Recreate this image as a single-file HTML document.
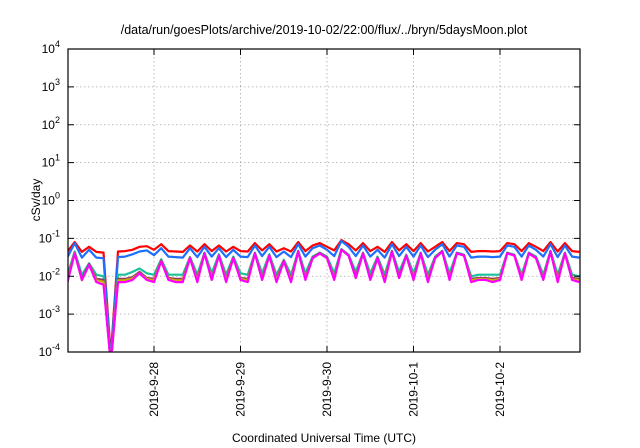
<!DOCTYPE html>
<html><head><meta charset="utf-8"><style>
body{margin:0;background:#fff}
svg{display:block;font-family:"Liberation Sans",sans-serif}
</style></head><body>
<svg id="chart" width="640" height="448">
<text x="324" y="34" font-size="12.5" text-anchor="middle">/data/run/goesPlots/archive/2019-10-02/22:00/flux/../bryn/5daysMoon.plot</text>
<text transform="translate(40,200) rotate(-90)" font-size="12" text-anchor="middle">cSv/day</text>
<text x="324" y="442" font-size="12" text-anchor="middle">Coordinated Universal Time (UTC)</text>
<g id="grid"></g><g id="series"></g><g id="axes"></g>
</svg>
<script>
const yTickExps=[-4,-3,-2,-1,0,1,2,3,4];
const xTickDays=[1,2,3,4,5];
const xTickLabels=["2019-9-28","2019-9-29","2019-9-30","2019-10-1","2019-10-2"];
const seriesNames=["red","blue","teal","brown","yellow","magenta"];
const seriesColors=["#ff0000","#1f6fff","#19c29a","#8e3b5f","#c8b000","#ff00ff"];
const stepHours=2;
// values in units of 1e-3 cSv/day
const red=[45,80,44,60,44,42,0.08,45,46,50,60,62,50,70,46,45,44,65,45,70,46,65,45,60,46,45,75,48,70,45,55,45,80,46,65,75,60,48,90,70,48,75,46,60,44,80,48,70,46,75,45,60,80,46,75,70,44,46,46,45,46,75,70,46,75,60,46,80,45,75,46,44];
const blue=[32,75,31,50,31,30,0.06,32,33,38,45,48,36,55,33,32,31,55,32,60,33,55,32,50,33,32,65,34,60,32,45,32,70,33,55,65,50,34,85,60,34,65,33,50,31,70,34,60,33,65,32,50,70,33,65,60,31,33,33,32,33,65,60,33,65,50,33,70,32,65,33,31];
const teal=[11,45,11,22,11,10,0.05,11,11,13,16,12,11,28,11,11,11,32,11,42,12,38,11,33,12,11,42,12,38,11,27,11,47,12,33,42,33,12,52,37,13,42,12,33,11,47,13,37,12,42,11,33,47,12,42,37,10,11,11,11,11,42,37,11,42,33,11,47,11,42,11,10];
const brown=[8.5,42,8.5,21,8.5,8,0.05,8.5,8.5,9.5,13,9,8.5,26,9,8.5,8.5,31,8.5,41,9,36,8.5,31,9,8.5,41,9,36,8.5,26,8.5,46,9,31,41,31,9,51,36,10,41,9,31,8.5,46,10,36,9,41,8.5,31,46,9,41,36,8.5,9,9,8.5,9,41,36,9,41,31,9,46,8.5,41,9,8.5];
const yellow=[7.8,41,7.8,20,7.8,7.2,0.05,7.8,7.8,8.8,12,8.5,7.8,25,8.5,7.8,7.8,30,7.8,40,8.5,35,7.8,30,8.5,7.8,40,8.5,35,7.8,25,7.8,45,8.5,30,40,30,8.5,50,35,9,40,8.5,30,7.8,45,9,35,8.5,40,7.8,30,45,8.5,40,35,7.8,8.5,8.5,7.8,8.5,40,35,8.5,40,30,8.5,45,7.8,40,8.5,7.8];
const magenta=[7,40,8,20,7,6,0.05,7,7,8,12,8,7,25,8,7,7,30,7,40,8,35,7,30,8,7,40,8,35,7,25,7,45,8,30,40,30,8,50,35,9,40,8,30,7,45,9,35,8,40,7,30,45,8,40,35,7,8,8,7,8,40,35,8,40,30,8,45,7,40,8,7];
const allSeries=[red,blue,teal,brown,yellow,magenta];
const unit=1e-3;

const L=68,R=580,T=49,B=352,dayPx=86.5,x0=67.5;
const ns="http://www.w3.org/2000/svg";
function xScale(h){return x0+h/24*dayPx;}
function yScale(v){const lv=Math.log10(Math.max(v*unit,1e-6));const yy=B-(lv+4)/8*(B-T);return Math.min(yy,B+20);}
function mk(tag,attrs,parent){const e=document.createElementNS(ns,tag);for(const k in attrs)e.setAttribute(k,attrs[k]);parent.appendChild(e);return e;}
const grid=document.getElementById('grid'),axes=document.getElementById('axes'),ser=document.getElementById('series');
yTickExps.forEach(ex=>{const y=B-(ex+4)/8*(B-T);
 if(ex>-4&&ex<4){const g=mk('line',{x1:L,x2:R,y1:y,y2:y,stroke:'#aaa','stroke-width':0.8,'stroke-dasharray':'1.5,2.5'},grid);
 }
 const t1=mk('line',{x1:L,x2:L+6,y1:y,y2:y,stroke:'#000'},axes);
 const t2=mk('line',{x1:R-6,x2:R,y1:y,y2:y,stroke:'#000'},axes);
 const tx=mk('text',{x:L-8,y:y+4,'font-size':12,'text-anchor':'end'},axes);
 
 tx.innerHTML='10<tspan dy="-6" font-size="9">'+ex+'</tspan>';});
xTickDays.forEach((d,i)=>{const x=x0+d*dayPx;
 const g=mk('line',{x1:x,x2:x,y1:T,y2:B,stroke:'#aaa','stroke-width':0.8,'stroke-dasharray':'1.5,2.5'},grid);
 
 const t1=mk('line',{x1:x,x2:x,y1:B-6,y2:B,stroke:'#000'},axes);
 const t2=mk('line',{x1:x,x2:x,y1:T,y2:T+6,stroke:'#000'},axes);
 const tx=mk('text',{transform:`translate(${x+4},${B+10}) rotate(-90)`,'font-size':12,'text-anchor':'end'},axes);
 
 tx.textContent=xTickLabels[i];});
const fr=mk('rect',{x:L,y:T,width:R-L,height:B-T,fill:'none',stroke:'#000','stroke-width':1.2},axes);

const clip=mk('clipPath',{id:'pc'},document.getElementById('chart'));
mk('rect',{x:L,y:T,width:R-L,height:B-T},clip);
ser.setAttribute('clip-path','url(#pc)');
allSeries.forEach((arr,si)=>{const pts=arr.map((v,i)=>xScale(i*stepHours).toFixed(1)+','+yScale(v).toFixed(1)).join(' ');
 const p=mk('polyline',{points:pts,fill:'none',stroke:seriesColors[si],'stroke-width':2.2,'stroke-linejoin':'round'},ser);
 });
</script>
</body></html>
